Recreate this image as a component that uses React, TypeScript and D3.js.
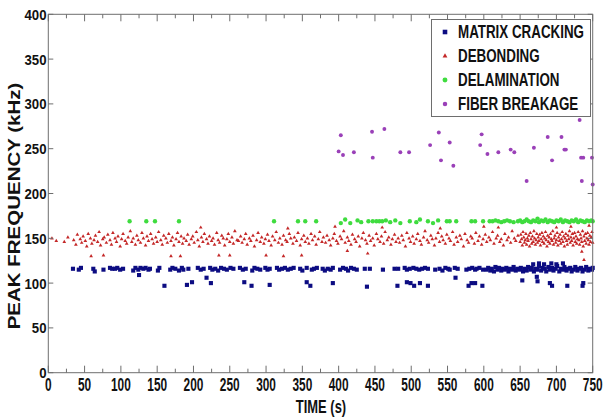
import React from "react";
import * as d3 from "d3";

// time (s), peak frequency (kHz)
const matrixCracking: [number, number][] = [
  [34,116],[42,115],[45,117],[62,116],[64,113],[76,115],[85,117],[88,116],[92,116],[95,117],[99,115],[103,116],
  [117,114],[120,117],[124,115],[127,117],[131,116],[134,117],[138,115],[140,116],[151,114],[153,117],[168,115],
  [171,117],[175,116],[180,114],[184,117],[186,115],[193,116],[206,117],[210,115],[214,116],[223,117],[226,115],
  [230,116],[234,114],[238,117],[242,116],[246,115],[251,117],[255,116],[264,117],[268,115],[272,116],[281,114],
  [284,117],[288,116],[292,115],[299,117],[302,115],[305,116],[315,117],[318,115],[322,116],[326,117],[330,115],
  [334,116],[338,117],[347,116],[350,114],[356,117],[363,115],[366,116],[370,117],[378,116],[381,114],[385,116],
  [389,115],[392,117],[402,115],[406,117],[410,116],[413,114],[417,117],[421,116],[425,115],[436,116],[443,116],
  [461,115],[477,116],[482,116],[491,117],[494,115],[498,116],[503,117],[507,116],[511,115],[515,116],[519,117],
  [523,116],[533,115],[539,116],[543,114],[547,117],[551,116],[553,115],[560,117],[564,116],[576,115],[580,116],
  [584,117],[588,115],[590,116],[594,117],[599,115],
  [604,115],[606,117],[609,114],[611,116],[614,113],[616,118],[619,115],[621,117],[624,114],[626,116],[629,115],
  [631,117],[634,113],[636,116],[639,115],[641,118],[644,114],[646,116],[649,115],[651,117],[654,113],[656,116],
  [659,114],[661,118],[664,115],[666,117],[669,113],[671,116],[674,115],[676,119],[679,114],[681,117],[684,116],
  [686,113],[689,118],[691,115],[694,117],[696,114],[699,116],[701,119],[704,113],[706,116],[709,115],[711,118],
  [714,114],[716,116],[719,117],[721,113],[724,115],[726,118],[729,114],[731,116],[734,117],[736,113],[739,115],
  [741,118],[744,114],[746,116],[749,115],[750,117],
  [668,121],[676,122],[683,121],[693,122],[700,121],[709,122],
  [125,109],[160,97],[191,98],[198,101],[218,106],[224,100],[270,101],[280,97],[305,98],[356,101],[361,97],
  [392,100],[439,96],[481,97],[494,101],[499,100],[504,97],[512,100],[523,97],[561,106],[579,97],[583,100],
  [588,100],[598,97],[653,103],[673,107],[674,102],[691,100],[694,97],[715,97],[736,97],[737,100],
];

const debonding: [number, number][] = [
  [5,150],[11,147],[22,146],[27,151],[35,148],[38,143],[40,154],
  [44,149],[46,145],[48,152],[51,147],[53,141],[55,155],[58,150],[60,144],[63,148],[65,153],[68,146],[70,157],
  [72,142],[75,149],[77,151],[80,145],[82,154],[85,148],[87,143],[89,156],[92,150],[94,146],[96,152],[99,141],
  [101,149],[103,155],[106,147],[108,144],[110,151],[113,158],[115,146],[117,150],[120,143],[122,153],[124,148],
  [127,145],[129,156],[131,150],[134,142],[136,152],[138,147],[141,155],[143,149],[145,144],[148,151],[150,146],
  [152,157],[155,148],[157,143],[159,153],[162,150],[164,145],[166,155],[169,147],[171,151],[173,142],[176,149],
  [178,156],[180,146],[183,152],[185,144],[187,150],[190,147],[192,154],[194,143],[197,149],[199,152],[201,145],
  [204,157],[206,148],[208,141],[211,151],[213,146],[215,155],[218,149],[220,144],[222,152],[225,147],[227,150],
  [229,143],[232,156],[234,148],[236,145],[239,153],[241,150],[243,142],[246,149],[248,155],[250,146],[253,151],
  [255,144],[257,158],[260,148],[262,147],
  [265,152],[267,145],[270,149],[272,155],[274,143],[277,150],[279,147],[282,153],[284,141],[287,148],[289,156],
  [292,146],[294,151],[297,144],[299,149],[302,154],[304,147],[307,142],[309,152],[312,148],[314,157],[317,145],
  [319,150],[322,143],[324,153],[327,148],[329,146],[332,155],[334,150],[337,144],[339,151],[342,147],[344,156],
  [347,142],[349,149],[352,153],[354,146],[357,150],[359,144],[362,155],[364,148],[367,152],[369,143],[372,149],
  [374,157],[377,146],[379,151],[382,145],[384,153],[387,148],[389,142],[392,150],[394,155],[397,147],[399,144],
  [402,152],[404,149],[407,158],[409,145],[412,151],[414,147],[417,143],[419,154],[422,149],[424,146],[427,152],
  [429,141],[432,150],[434,156],[437,148],[439,144],[442,153],[444,147],[447,150],[449,142],[452,155],[454,149],
  [457,146],[459,152],[462,144],[464,157],[467,148],[469,151],[472,143],[474,149],[477,154],[479,146],[482,150],
  [484,145],[487,153],[489,148],[492,141],[494,156],[497,150],[499,146],[502,152],[504,144],[507,149],[509,155],
  [512,147],[514,143],[517,151],[519,158],[522,148],[524,145],[527,153],[529,149],[532,142],[534,150],[537,156],
  [539,146],[542,152],[544,148],[547,144],[549,154],[552,150],[554,147],[557,157],[559,143],[562,151],[564,146],
  [567,153],[569,149],[572,141],[574,155],[577,148],[579,145],[582,152],[584,150],[587,144],[589,156],[592,147],
  [594,152],[597,143],[599,149],[602,154],[604,146],[607,151],[609,148],[612,157],[614,144],[617,150],[619,153],
  [622,146],[624,149],[627,142],[629,155],[632,148],[634,151],[637,145],[639,158],[642,150],[644,147],[647,153],
  [650,146],[651,154],[652,149],[653,142],[654,157],[655,151],[656,145],[657,148],[658,155],[659,143],[660,150],
  [661,147],[662,153],[663,141],[664,156],[665,149],[666,144],[667,152],[668,146],[669,158],[670,150],[671,143],
  [672,148],[673,155],[674,145],[675,151],[676,147],[677,154],[678,142],[679,149],[680,156],[681,146],[682,152],
  [683,144],[684,150],[685,157],[686,148],[687,141],[688,153],[689,146],[690,151],[691,144],[692,155],[693,149],
  [694,147],[695,158],[696,143],[697,150],[698,153],[699,145],[700,148],[701,156],[702,142],[703,151],[704,147],
  [705,154],[706,144],[707,149],[708,157],[709,146],[710,152],[711,141],[712,150],[713,155],[714,147],[715,143],
  [716,153],[717,149],[718,158],[719,145],[720,151],[721,147],[722,155],[723,142],[724,150],[725,156],[726,146],
  [727,152],[728,144],[729,149],[730,157],[731,148],[732,143],[733,154],[734,150],[735,146],[736,158],[737,141],
  [738,152],[739,147],[740,155],[741,144],[742,150],[743,156],[744,148],[745,143],[746,153],[747,146],[748,151],
  [749,157],[750,145],
  [59,130],[76,131],[169,130],[182,130],[235,131],[250,131],[300,131],[324,130],[349,131],[440,133],[735,135],
  [738,126],[412,136],
  [210,162],[330,161],[395,163],[460,162],[540,161],[600,163],[620,162],[700,162],[720,163],[745,164],
];

const delamination: [number, number][] = [
  [112,169],[135,169],[147,169],[180,169],[311,169],[344,169],[354,169],[369,169],[403,167],[409,171],[416,167],
  [426,170],[431,168],[441,169],[447,169],[452,169],[456,169],[460,169],[465,170],[471,168],[478,170],[485,167],
  [498,169],[507,168],[512,171],[523,169],[530,167],[537,170],[549,169],[553,169],[562,169],[583,169],[588,169],
  [599,169],[608,169],[612,169],[616,170],[620,169],[624,168],[628,169],[632,170],[636,169],[641,168],
  [647,169],[650,170],[653,168],[656,169],[659,171],[662,169],[665,168],[668,170],[671,169],[674,172],[676,168],
  [679,170],[682,169],[685,171],[688,168],[691,170],[694,169],[697,168],[700,170],[703,169],[706,171],[709,168],
  [712,170],[715,169],[718,168],[721,170],[724,169],[727,171],[730,168],[733,170],[736,169],[739,168],[742,170],
  [745,169],[748,170],[750,169],
];

const fiberBreakage: [number, number][] = [
  [400,247],[403,265],[406,243],[421,246],[446,269],[447,240],[463,272],[485,246],[497,246],[526,254],[538,268],
  [541,237],[553,257],[558,231],[597,266],[595,254],[605,244],[620,246],[637,249],[642,246],[659,214],[669,251],
  [688,263],[694,237],[707,263],[711,249],[713,249],[732,282],[734,240],[737,240],[735,214],[749,240],[750,210],
];

const xTicks = d3.range(0, 751, 50);
const xMinorTicks = d3.range(25, 750, 50);
const yTicks = d3.range(0, 401, 50);

const legendNames = ["MATRIX CRACKING", "DEBONDING", "DELAMINATION", "FIBER BREAKAGE"];

const W = 604;
const H = 419;
const FONT = "'Liberation Sans', Arial, Helvetica, sans-serif";

const x = d3.scaleLinear().domain([0, 750]).range([48.3, 592.7]);
const y = d3.scaleLinear().domain([0, 400]).range([372.7, 14.3]);

const series = [
  { data: matrixCracking, color: "#0c0c82", shape: d3.symbolSquare, size: 17 },
  { data: debonding, color: "#c42828", shape: d3.symbolTriangle, size: 6 },
  { data: delamination, color: "#3fdc3f", shape: d3.symbolCircle, size: 15 },
  { data: fiberBreakage, color: "#9a40b8", shape: d3.symbolCircle, size: 12 },
];

const axisColor = "#6e6e6e";

export default function App() {
  const [x0, x1] = x.range();
  const [y0, y1] = y.range();
  return (
    <svg
      width={W}
      height={H}
      style={{ position: "absolute", left: 0, top: 0, background: "#fff" }}
      fontFamily={FONT}
      fontWeight="bold"
    >
      {/* points */}
      {series.map((s, i) => {
        const p = d3.symbol().type(s.shape).size(s.size)() as string;
        return (
          <g key={i} fill={s.color}>
            {s.data.map((d, j) => (
              <path key={j} d={p} transform={`translate(${x(d[0])},${y(d[1])})`} />
            ))}
          </g>
        );
      })}

      {/* frame */}
      <rect x={x0} y={y1} width={x1 - x0} height={y0 - y1} fill="none" stroke={axisColor} strokeWidth={1} />

      {/* x ticks, bottom and top */}
      <g stroke={axisColor} strokeWidth={1}>
        {xTicks.map((t) => (
          <g key={"xt" + t}>
            <line x1={x(t)} x2={x(t)} y1={y0} y2={y0 - 7} />
            <line x1={x(t)} x2={x(t)} y1={y1} y2={y1 + 7} />
          </g>
        ))}
        {xMinorTicks.map((t) => (
          <g key={"xm" + t}>
            <line x1={x(t)} x2={x(t)} y1={y0} y2={y0 - 4} />
            <line x1={x(t)} x2={x(t)} y1={y1} y2={y1 + 4} />
          </g>
        ))}
        {yTicks.map((t) => (
          <g key={"yt" + t}>
            <line x1={x0} x2={x0 + 5} y1={y(t)} y2={y(t)} />
            <line x1={x1} x2={x1 - 5} y1={y(t)} y2={y(t)} />
          </g>
        ))}
      </g>

      {/* tick labels */}
      {xTicks.map((t) => (
        <text
          key={"xl" + t}
          transform={`translate(${x(t)},391) scale(0.66,1)`}
          textAnchor="middle"
          fontSize={18}
          fill="#111"
        >
          {t}
        </text>
      ))}
      {yTicks.map((t) => (
        <text
          key={"yl" + t}
          transform={`translate(46.5,${y(t) + 5.5}) scale(0.88,1)`}
          textAnchor="end"
          fontSize={15}
          fill="#111"
        >
          {t}
        </text>
      ))}

      {/* axis titles */}
      <text transform="translate(321,413) scale(0.7,1)" textAnchor="middle" fontSize={18.5} fill="#111">
        TIME (s)
      </text>
      <text transform="translate(20,206) rotate(-90) scale(1,0.82)" textAnchor="middle" fontSize={20.5} fill="#111">
        PEAK FREQUENCY (kHz)
      </text>

      {/* legend */}
      <rect x={431.5} y={19.5} width={159} height={97} fill="#fff" stroke={axisColor} strokeWidth={1} />
      {legendNames.map((name, i) => {
        const s = series[i];
        const base = 38 + i * 24;
        const p = d3.symbol().type(s.shape).size(s.size + 4)() as string;
        return (
          <g key={name}>
            <path d={p} fill={s.color} transform={`translate(445,${base - 6})`} />
            <text transform={`translate(458,${base}) scale(0.743,1)`} fontSize={18} fill="#111">
              {name}
            </text>
          </g>
        );
      })}
    </svg>
  );
}
